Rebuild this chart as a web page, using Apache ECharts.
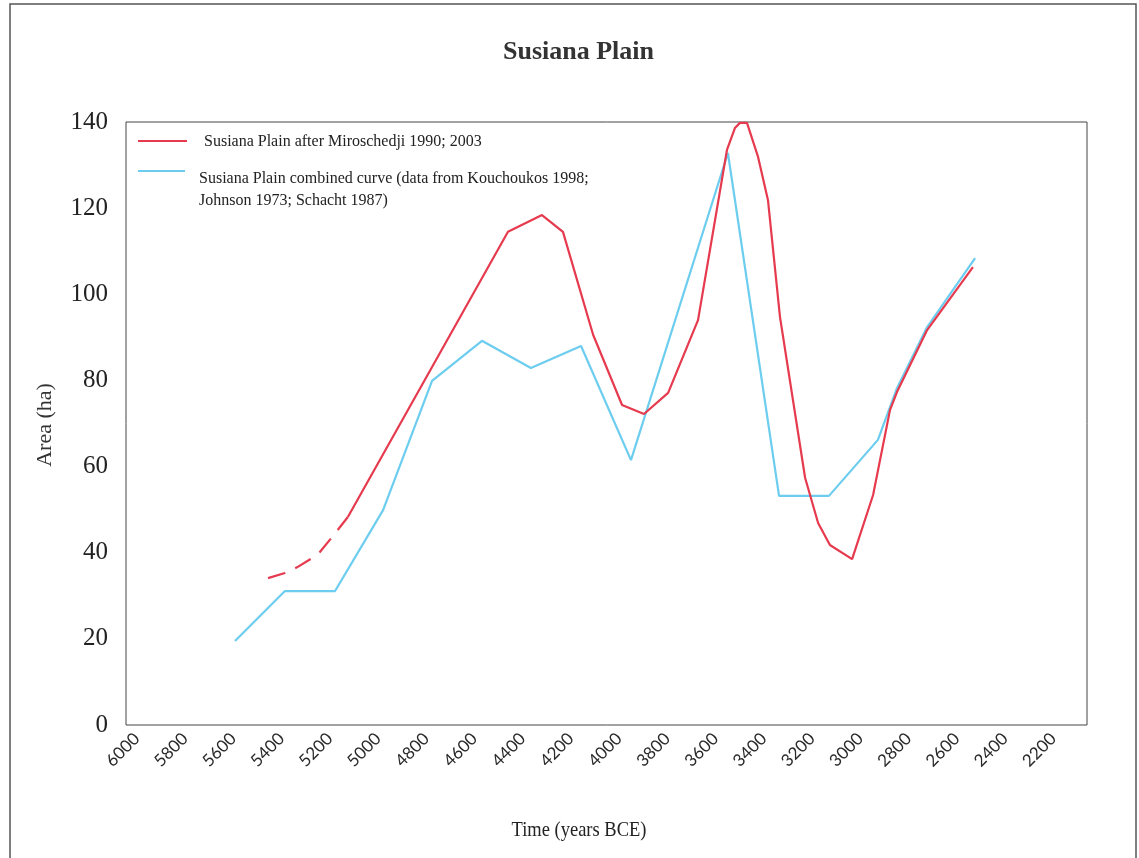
<!DOCTYPE html>
<html>
<head>
<meta charset="utf-8">
<script src="https://cdn.jsdelivr.net/npm/echarts@6/dist/echarts.min.js"></script>
<style>
html,body{margin:0;padding:0;background:#fff;}
#chart{width:1139px;height:858px;}
</style>
</head>
<body>
<div id="chart"></div>
<script>
// Tick labels on the time axis (years BCE)
var xTickYears = [6000, 5800, 5600, 5400, 5200, 5000, 4800, 4600, 4400, 4200, 4000, 3800, 3600, 3400, 3200, 3000, 2800, 2600, 2400, 2200];
var yTickValues = [0, 20, 40, 60, 80, 100, 120, 140];

// Red curve, dashed (uncertain) early part
var redDashYears  = [5456, 5386, 5336, 5249, 5178, 5125];
var redDashValues = [34.1, 35.3, 36.6, 39.6, 44.5, 48.3];

// Red curve: Susiana Plain after Miroschedji 1990; 2003
var redYears  = [5125, 4461, 4320, 4233, 4108, 3988, 3897, 3797, 3673, 3553, 3520, 3499, 3470, 3424, 3383, 3333, 3229, 3175, 3126, 3034, 2947, 2877, 2848, 2723, 2533];
var redValues = [48.3, 114.5, 118.4, 114.5, 90.6, 74.3, 72.2, 77.1, 94.0, 133.5, 138.6, 139.8, 139.8, 131.9, 121.9, 94.7, 57.4, 46.9, 41.8, 38.5, 53.4, 73.1, 77.3, 91.7, 106.3];

// Blue curve: Susiana Plain combined curve
var blueYears  = [5593, 5386, 5178, 4979, 4776, 4569, 4366, 4158, 3951, 3549, 3337, 3130, 2927, 2848, 2723, 2524];
var blueValues = [19.5, 31.1, 31.1, 49.9, 79.9, 89.2, 82.9, 88.0, 61.5, 132.8, 53.2, 53.2, 66.2, 78.2, 92.4, 108.4];

var redName = 'Susiana Plain after Miroschedji 1990; 2003';
var blueName = 'Susiana Plain combined curve (data from Kouchoukos 1998;\nJohnson 1973; Schacht 1987)';
var xTitle = 'Time (years BCE)';
var yTitle = 'Area (ha)';

function pairs(xs, ys) { return xs.map(function (x, i) { return [x, ys[i]]; }); }

var RED = '#e63a4e';
var BLUE = '#6ccdef';
var SERIF = "'Liberation Serif', 'DejaVu Serif', serif";

var chart = echarts.init(document.getElementById('chart'), null, {renderer: 'canvas'});
chart.setOption({
  backgroundColor: '#ffffff',
  animation: false,
  title: {
    text: 'Susiana Plain',
    left: 498,
    top: 34,
    textStyle: {fontFamily: SERIF, fontSize: 26, fontWeight: 'bold', color: '#333'}
  },
  grid: {
    left: 126, top: 122, width: 961, height: 603,
    show: true, borderColor: '#444', borderWidth: 1, backgroundColor: 'transparent'
  },
  xAxis: {
    type: 'value',
    min: 2060, max: 6045,
    inverse: true,
    axisLine: {show: false},
    axisTick: {show: false},
    splitLine: {show: false},
    axisLabel: {
      customValues: xTickYears,
      formatter: function (v) { return String(v); },
      rotate: 45,
      margin: 11,
      fontFamily: "'Lato', 'Open Sans', sans-serif",
      fontSize: 17,
      color: '#2a2a2a'
    }
  },
  yAxis: {
    type: 'value',
    min: 0, max: 140, interval: 20,
    axisLine: {show: false},
    axisTick: {show: false},
    splitLine: {show: false},
    axisLabel: {
      customValues: yTickValues,
      margin: 18,
      padding: [10, 0, 0, 0],
      fontFamily: SERIF,
      fontSize: 25,
      color: '#222'
    }
  },
  graphic: [
    {type: 'rect', silent: true, shape: {x: 10, y: 4, width: 1126, height: 900},
     style: {fill: 'none', stroke: '#555', lineWidth: 1.5}},
    {type: 'text', silent: true, x: 579, y: 830, scaleX: 0.88,
     style: {text: xTitle, fontFamily: SERIF, fontSize: 21, fill: '#222', align: 'center', verticalAlign: 'middle'}},
    {type: 'text', silent: true, x: 45, y: 425, rotation: Math.PI / 2,
     style: {text: yTitle, fontFamily: SERIF, fontSize: 22, fill: '#333', align: 'center', verticalAlign: 'middle'}},
    {type: 'line', silent: true, shape: {x1: 138, y1: 141, x2: 187, y2: 141},
     style: {stroke: RED, lineWidth: 2}},
    {type: 'text', silent: true, x: 204, y: 142,
     style: {text: redName, fontFamily: SERIF, fontSize: 16, fill: '#222', verticalAlign: 'middle'}},
    {type: 'line', silent: true, shape: {x1: 138, y1: 171, x2: 185, y2: 171},
     style: {stroke: BLUE, lineWidth: 2}},
    {type: 'text', silent: true, x: 199, y: 168,
     style: {text: blueName, fontFamily: SERIF, fontSize: 16, lineHeight: 22, fill: '#222', verticalAlign: 'top'}}
  ],
  series: [
    {
      name: blueName, type: 'line', data: pairs(blueYears, blueValues),
      showSymbol: false, lineStyle: {color: BLUE, width: 2.2}, itemStyle: {color: BLUE}, z: 2
    },
    {
      name: redName, type: 'line', data: pairs(redYears, redValues),
      showSymbol: false, lineStyle: {color: RED, width: 2.2}, itemStyle: {color: RED}, z: 3
    },
    {
      name: 'red-dashed', type: 'line', data: pairs(redDashYears, redDashValues),
      showSymbol: false, lineStyle: {color: RED, width: 2.2, type: [18, 11]}, itemStyle: {color: RED}, z: 3
    }
  ]
});
</script>
</body>
</html>
